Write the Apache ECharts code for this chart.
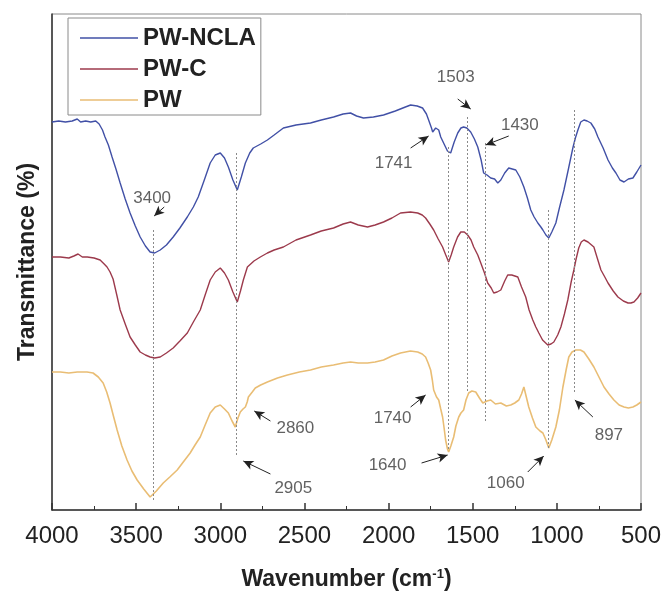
<!DOCTYPE html>
<html><head><meta charset="utf-8">
<script src="https://cdn.jsdelivr.net/npm/echarts@6/dist/echarts.min.js"></script>
<style>html,body{margin:0;padding:0;background:#fff}#c{width:662px;height:593px}</style>
</head><body><div id="c"></div>
<script>
// Wavenumber (cm-1) and transmittance (arbitrary offset units)
const nclaWn = [4000,3960,3920,3880,3850,3830,3800,3770,3740,3720,3700,3685,3665,3643,3620,3595,3565,3536,3505,3476,3445,3417,3390,3357,3320,3280,3240,3196,3160,3131,3095,3060,3030,3000,2975,2952,2925,2899,2875,2851,2825,2804,2760,2720,2680,2625,2550,2464,2400,2327,2270,2226,2190,2149,2090,2030,1960,1900,1869,1830,1798,1775,1762,1745,1738,1720,1702,1690,1673,1650,1631,1610,1589,1570,1554,1535,1512,1490,1470,1450,1435,1415,1393,1370,1351,1333,1310,1286,1265,1244,1220,1196,1175,1155,1135,1113,1095,1083,1065,1048,1030,1006,985,958,930,905,890,875,858,839,820,798,775,756,725,696,670,649,625,601,575,548,525,500];
const nclaT = [388,389,388,389,391,388,389,388,389,386,380,373,365,353,341,327,311,297,284,273,264,258,257,260,265,273,282,293,303,313,330,347,355,357,352,343,330,320,333,347,357,362,366,370,375,382,385,387,390,393,396,397,394,392,393,395,399,403,405,404,402,396,390,382,378,382,380,373,367,359,357,368,377,382,383,382,378,371,363,350,337,335,332,331,327,330,337,342,341,340,333,323,312,300,293,287,283,280,275,272,278,287,302,320,342,362,372,380,388,390,389,387,381,373,362,350,342,337,330,328,331,332,338,345];

const pwcWn = [4000,3950,3900,3870,3845,3820,3790,3750,3714,3690,3673,3655,3637,3615,3595,3565,3536,3505,3476,3445,3417,3390,3357,3320,3280,3240,3196,3160,3119,3090,3060,3030,3000,2975,2952,2925,2899,2880,2863,2839,2800,2762,2720,2680,2625,2550,2464,2400,2327,2270,2226,2180,2125,2080,2030,1980,1929,1870,1827,1800,1780,1755,1732,1705,1679,1660,1643,1628,1613,1590,1571,1550,1530,1510,1494,1470,1452,1430,1411,1390,1375,1355,1333,1310,1292,1268,1250,1232,1210,1185,1165,1143,1125,1107,1085,1054,1035,1018,995,976,955,935,915,899,887,870,855,839,815,780,760,738,715,696,665,637,605,577,560,542,520,500];
const pwcT = [253,253,252,254,256,253,253,252,250,246,243,238,231,215,200,186,173,165,158,155,153,152,153,157,162,169,177,188,200,215,230,238,242,237,230,218,208,219,230,243,249,253,257,260,263,270,275,279,282,286,288,285,283,285,288,292,297,298,297,295,292,286,280,271,263,255,248,255,263,273,278,278,275,270,263,255,247,237,227,222,217,218,220,229,235,235,234,233,223,213,200,190,183,177,170,165,166,168,175,183,196,210,228,240,250,262,268,270,268,263,252,240,233,227,219,213,209,207,207,208,212,217];

const pwWn = [4000,3950,3900,3850,3792,3756,3725,3696,3675,3655,3635,3613,3585,3554,3525,3494,3455,3417,3380,3339,3300,3256,3220,3179,3150,3119,3090,3060,3030,3000,2975,2952,2930,2911,2895,2881,2865,2851,2840,2833,2810,2792,2760,2720,2660,2601,2530,2464,2400,2327,2270,2226,2180,2125,2080,2030,1980,1929,1870,1827,1800,1780,1765,1750,1740,1732,1715,1702,1690,1679,1670,1661,1650,1643,1630,1613,1600,1583,1570,1554,1540,1524,1505,1482,1460,1440,1415,1393,1365,1333,1300,1274,1250,1226,1210,1196,1180,1167,1145,1125,1100,1083,1065,1048,1030,1006,985,964,945,929,910,887,860,839,810,780,750,720,690,661,630,601,575,548,525,500];
const pwT = [138,138,137,138,138,137,133,127,118,107,94,80,64,50,39,30,21,13,19,27,33,40,48,57,65,73,85,97,103,105,101,97,89,83,92,98,101,103,108,113,118,122,125,128,132,135,138,140,143,145,147,148,147,147,148,150,154,157,159,158,156,153,147,140,130,120,113,110,101,93,82,70,61,58,64,73,84,93,97,100,110,117,119,118,112,107,109,110,106,107,104,105,107,110,116,123,112,103,92,83,79,77,70,62,70,83,100,123,140,153,158,160,160,158,151,143,133,123,116,110,105,103,102,103,105,108];

// Dotted guide lines: wavenumber, top and bottom values
const guideWn = [3400, 2905, 1643, 1535, 1423, 1050, 899];
const guideTop = [280, 357, 363, 393, 367, 300, 400];
const guideBottom = [10, 53, 60, 118, 87, 60, 117];

// Peak annotations
const annoText = ['3400','1503','1741','1430','2860','2905','1740','1640','1060','897'];
const annoWn = [3405, 1601, 1970, 1220, 2554, 2566, 1976, 2006, 1304, 691];
const annoT = [312, 433, 347, 385, 82, 22, 92, 45, 27, 75];
const arrowHeadWn = [3393, 1512, 1762, 1423, 2798, 2863, 1780, 1649, 1078, 893];
const arrowHeadT = [294, 401, 374, 365, 99, 49, 115, 55, 54, 110];
const arrowTailWn = [3333, 1589, 1869, 1286, 2702, 2702, 1869, 1804, 1173, 786];
const arrowTailT = [303, 411, 362, 374, 89, 36, 103, 47, 38, 93];

const xTicksMin = 500, xTicksMax = 4000, xTickStep = 500;

const zip = (a, b) => a.map((v, i) => [v, b[i]]);
const chart = echarts.init(document.getElementById('c'));
const font = 'Liberation Sans, Arial, sans-serif';

chart.setOption({
  animation: false,
  backgroundColor: '#fff',
  grid: {left: 52, right: 21, top: 14, bottom: 83, outerBoundsMode: 'none', containLabel: false,
    show: true, borderColor: '#8a8a8a', borderWidth: 1},
  legend: {
    data: ['PW-NCLA', 'PW-C', 'PW'],
    orient: 'vertical', left: 68, top: 18,
    icon: 'rect', itemWidth: 58, itemHeight: 1.5, itemGap: 7,
    padding: [8, 5, 3, 12],
    borderColor: '#8a8a8a', borderWidth: 1,
    textStyle: {fontFamily: font, fontSize: 24, fontWeight: 'bold', color: '#222'}
  },
  xAxis: {
    type: 'value', inverse: true, min: xTicksMin, max: xTicksMax, interval: xTickStep,
    name: 'Wavenumber (cm{sup|-1})', nameLocation: 'middle', nameGap: 58,
    nameTextStyle: {fontFamily: font, fontSize: 23, fontWeight: 'bold', color: '#222',
      rich: {sup: {fontSize: 13, fontWeight: 'bold', verticalAlign: 'top', padding: [0, 0, 10, 0], color: '#222'}}},
    axisLine: {show: true, lineStyle: {color: '#333', width: 1.5}},
    axisTick: {show: true, inside: true, length: 7, lineStyle: {color: '#333', width: 1.5}},
    minorTick: {show: true, splitNumber: 2, length: 4, lineStyle: {color: '#333', width: 1}},
    axisLabel: {fontFamily: font, fontSize: 24, color: '#222', margin: 14, formatter: v => String(v)},
    splitLine: {show: false}
  },
  yAxis: {
    type: 'value', min: 0, max: 496,
    name: 'Transmittance (%)', nameLocation: 'middle', nameGap: 13,
    nameTextStyle: {fontFamily: font, fontSize: 23, fontWeight: 'bold', color: '#222'},
    axisLine: {show: true, lineStyle: {color: '#333', width: 1.5}},
    axisTick: {show: false}, axisLabel: {show: false}, splitLine: {show: false}
  },
  series: [
    {
      name: 'guides', type: 'line', data: [], silent: true,
      markLine: {
        silent: true, symbol: ['none', 'none'], label: {show: false},
        lineStyle: {color: '#8a8a8a', width: 1, type: [2, 2]},
        data: guideWn.map((w, i) => [{coord: [w, guideTop[i]]}, {coord: [w, guideBottom[i]]}])
      }
    },
    {name: 'PW-NCLA', type: 'line', data: zip(nclaWn, nclaT), showSymbol: false, symbol: 'none',
      lineStyle: {color: '#4150a6', width: 1.4}, itemStyle: {color: '#4150a6'}},
    {name: 'PW-C', type: 'line', data: zip(pwcWn, pwcT), showSymbol: false, symbol: 'none',
      lineStyle: {color: '#9c3a4c', width: 1.4}, itemStyle: {color: '#9c3a4c'}},
    {name: 'PW', type: 'line', data: zip(pwWn, pwT), showSymbol: false, symbol: 'none',
      lineStyle: {color: '#e9bd74', width: 1.6}, itemStyle: {color: '#e9bd74'}},
    {
      name: 'annotations', type: 'scatter', silent: true,
      data: annoWn.map((w, i) => [w, annoT[i], annoText[i]]),
      symbolSize: 1, itemStyle: {color: 'rgba(0,0,0,0)'},
      label: {show: true, position: 'inside', formatter: p => p.value[2],
        fontFamily: font, fontSize: 17, color: '#3a3a3a'},
      markLine: {
        silent: true, symbol: ['none', 'arrow'], symbolSize: [7, 10], label: {show: false},
        lineStyle: {color: '#222', width: 1, type: 'solid'},
        data: arrowHeadWn.map((w, i) => [{coord: [arrowTailWn[i], arrowTailT[i]]}, {coord: [w, arrowHeadT[i]]}])
      }
    }
  ]
});
</script>
</body></html>
